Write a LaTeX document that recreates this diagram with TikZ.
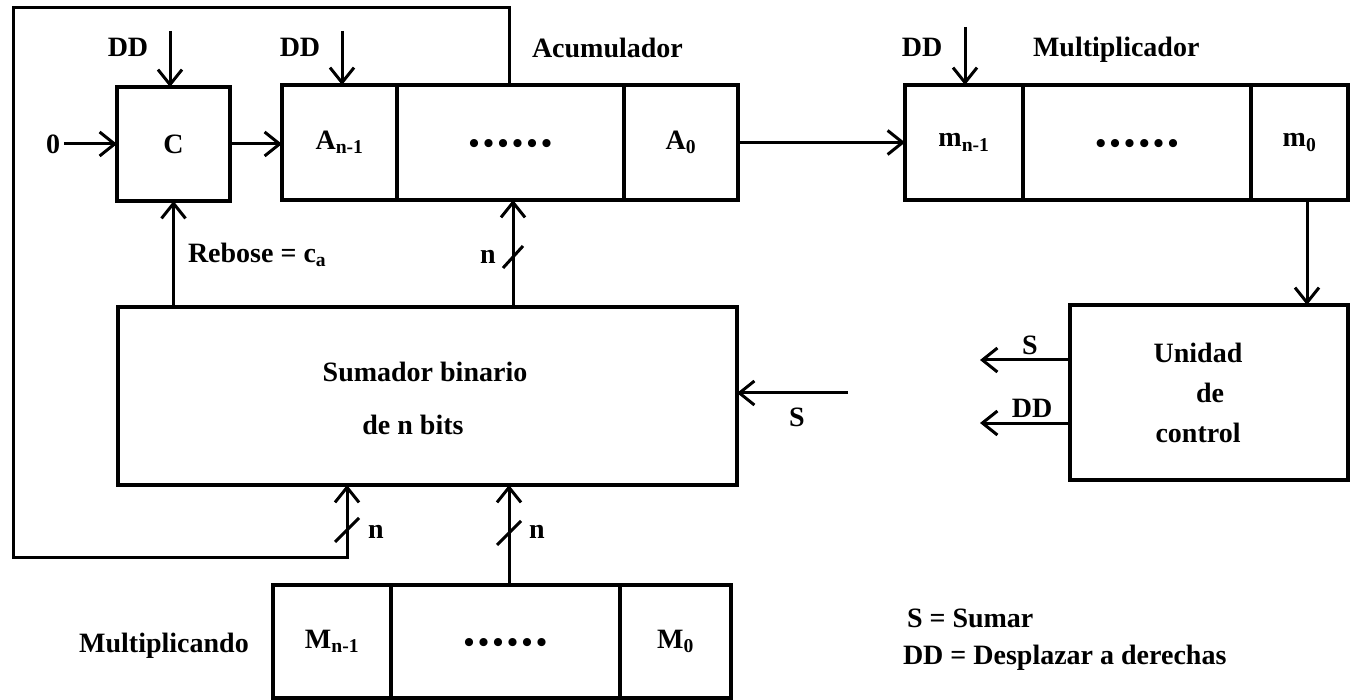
\documentclass[tikz,border=0pt]{standalone}
\usepackage{fontspec}
\setmainfont{Liberation Serif}
\usetikzlibrary{arrows.meta}
\newcommand\sixdots{\raisebox{-11pt}[0pt][0pt]{\textbullet\kern4pt\textbullet\kern4pt\textbullet\kern4pt\textbullet\kern4pt\textbullet\kern4pt\textbullet}}
\begin{document}
\begin{tikzpicture}[x=1pt,y=-1pt,
  every node/.style={font=\fontsize{28}{40}\selectfont\bfseries, inner sep=0pt, outer sep=0pt},
  cell/.style={draw, line width=4.5pt, rectangle},
  conn/.style={line width=3pt},
  arr/.style={conn, -{Straight Barb[length=15pt,width=24pt,line width=3pt]}},
  slash/.style={line width=3pt},
  dotsfont/.style={font=\fontsize{30}{30}\selectfont\bfseries}
]
\useasboundingbox (0,0) rectangle (1352,700);
\fill[white] (0,0) rectangle (1352,700);

% C register
\node[cell, minimum width=113pt, minimum height=114pt] (C) at (173.5,144) {C};
% Acumulador
\node[cell, minimum width=115pt, minimum height=115pt] (A1) at (339.5,142.5) {A\textsubscript{n-1}};
\node[cell, minimum width=227pt, minimum height=115pt, dotsfont] (Ad) at (510.5,142.5) {\sixdots};
\node[cell, minimum width=114pt, minimum height=115pt] (A0) at (681,142.5) {A\textsubscript{0}};
% Multiplicador
\node[cell, minimum width=118pt, minimum height=115pt] (m1) at (964,142.5) {m\textsubscript{n-1}};
\node[cell, minimum width=228pt, minimum height=115pt, dotsfont] (md) at (1137,142.5) {\sixdots};
\node[cell, minimum width=97pt, minimum height=115pt] (m0) at (1299.5,142.5) {m\textsubscript{0}};
% Sumador
\node[cell, minimum width=619pt, minimum height=178pt] (add) at (427.5,396) {};
\node (addt1) at (425,372) {Sumador binario};
\node (addt2) at (413,425) {de n bits};
% Unidad de control
\node[cell, minimum width=278pt, minimum height=175pt] (ctrl) at (1209,392.5) {};
\node (ct1) at (1198,353) {Unidad};
\node (ct2) at (1210,393) {de};
\node (ct3) at (1198,433) {control};
% Multiplicando
\node[cell, minimum width=118pt, minimum height=113pt] (M1) at (332,641.5) {M\textsubscript{n-1}};
\node[cell, minimum width=229pt, minimum height=113pt, dotsfont] (Md) at (505.5,641.5) {\sixdots};
\node[cell, minimum width=111pt, minimum height=113pt] (M0) at (675.5,641.5) {M\textsubscript{0}};

% labels
\node (zero) at (53,144) {0};
\node (dd1) at (128,47) {DD};
\node (dd2) at (300,47) {DD};
\node (dd3) at (922,47) {DD};
\node[anchor=west] (lacc) at (532,48) {Acumulador};
\node[anchor=west] (lmul) at (1033,50) {Multiplicador};
\node[anchor=west] (lreb) at (188,255) {Rebose = c\textsubscript{a}};
\node (ln1) at (488,257) {n};
\node (ln2) at (376,532) {n};
\node (ln3) at (537,532) {n};
\node (lS) at (797,417) {S};
\node (lS2) at (1030,345) {S};
\node (lDD) at (1032,408) {DD};
\node (lmcando) at (164,646) {Multiplicando};
\node[anchor=west] (leg1) at (907,618) {S = Sumar};
\node[anchor=west] (leg2) at (903,658) {DD = Desplazar a derechas};

% coordinates
\coordinate (t1) at (170,31);
\coordinate (t2) at (342,31);
\coordinate (t3) at (965,27);
\coordinate (mc) at (1307,200);
\coordinate (sin) at (848,393);
\coordinate (so) at (980,360);
\coordinate (ddo) at (980,423);
\coordinate (loopA) at (509,8);
\coordinate (loopB) at (13,8);
\coordinate (loopC) at (13,557);
\coordinate (loopD) at (347,557);
\coordinate (nx) at (513,0);
\coordinate (bx) at (509,0);

% connectors
\draw[arr] (zero.east) ++(4pt,0) -- (C.west);
\draw[arr] (C.east) -- (C.east -| A1.west);
\draw[arr] (t1) -- (t1 |- C.north);
\draw[arr] (t2) -- (t2 |- A1.north);
\draw[arr] (t3) -- (t3 |- m1.north);
\draw[arr] (A0.east) -- (m1.west);
\draw[arr] (mc) -- (mc |- ctrl.north);
\draw[arr] (add.north -| C.south) -- (C.south);
\draw[arr] (add.north -| nx) -- (nx |- Ad.south);
\draw[arr] (sin) -- (sin -| add.east);
\draw[arr] (so -| ctrl.west) -- (so);
\draw[arr] (ddo -| ctrl.west) -- (ddo);
\draw[arr] (loopA |- Ad.north) -- (loopA) -- (loopB) -- (loopC) -- (loopD) -- (loopD |- add.south);
\draw[arr] (bx |- Md.north) -- (bx |- add.south);

% bus slashes
\draw[slash] (513,257) ++(-10,11) -- ++(20,-22);
\draw[slash] (347,530) ++(-12,12) -- ++(24,-24);
\draw[slash] (509,533) ++(-12,12) -- ++(24,-24);
\end{tikzpicture}
\end{document}
